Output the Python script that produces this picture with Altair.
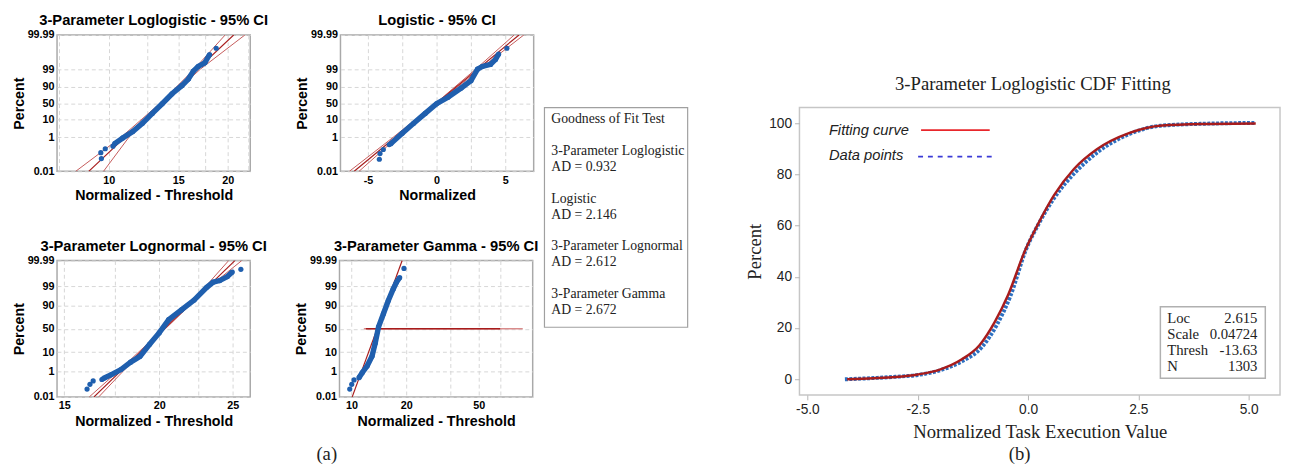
import math
from statistics import NormalDist
import pandas as pd
import altair as alt

# ---------------- data ----------------
PCT_TICKS = [0.01, 1, 10, 50, 90, 99, 99.99]
PCT_LABELS = ["0.01", "1", "10", "50", "90", "99", "99.99"]
CI_LEVELS = [0.01, 1, 50, 99, 99.99]
FIT_LEVELS = [0.01, 99.99]

# (1) 3-Parameter Loglogistic - 95% CI
ll_band_x = [10.35, 10.85, 11.5, 12.17, 12.89, 13.65, 14.46, 15.3, 15.9, 16.37, 16.84, 17.5, 17.99]
ll_band_p = [0.42, 0.9, 2.1, 6.2, 20, 48, 78, 91.4, 96.3, 98.7, 99.3, 99.57, 99.86]
ll_tail_x = [9.58, 9.55, 9.8, 10.25, 18.7]
ll_tail_p = [0.056, 0.124, 0.21, 0.30, 99.94]
ll_fit_x = [8.9, 20.7]
ll_lo_x = [8.25, 10.75, 13.5, 16.45, 19.7]
ll_hi_x = [9.7, 11.25, 13.7, 17.05, 22.1]

# (2) Logistic - 95% CI
lg_band_x = [-3.33, -2.5, -1.67, -0.83, 0.0, 0.83, 1.79, 2.5, 2.98, 3.33, 3.93, 4.29, 4.52]
lg_band_p = [0.42, 1.7, 6.2, 20, 48, 69, 88.6, 95.4, 99.0, 99.3, 99.47, 99.73, 99.87]
lg_tail_x = [-4.17, -4.12, -3.88, -3.45, 5.12]
lg_tail_p = [0.051, 0.11, 0.19, 0.37, 99.94]
lg_fit_x = [-6.0, 6.0]
lg_lo_x = [-6.35, -3.15, -0.05, 2.85, 5.65]
lg_hi_x = [-5.65, -2.85, 0.05, 3.15, 6.35]

# (3) 3-Parameter Lognormal - 95% CI
ln_band_x = [16.88, 17.3, 17.81, 18.34, 18.87, 19.43, 20.0, 20.59, 21.4, 22.24, 23.11, 23.56, 24.04, 24.6, 24.97]
ln_band_p = [0.33, 0.62, 1.3, 3.4, 6.6, 19.8, 41, 69, 84.8, 94.1, 98.8, 99.45, 99.57, 99.78, 99.90]
ln_tail_x = [16.07, 16.21, 16.37, 16.81, 25.63]
ln_tail_p = [0.05, 0.12, 0.22, 0.28, 99.94]
ln_fit_x = [16.41, 25.17]
ln_lo_x = [16.18, 17.65, 20.28, 23.05, 24.7]
ln_hi_x = [16.65, 17.92, 20.38, 23.35, 25.7]

# (4) 3-Parameter Gamma - 95% CI
gm_band_x = [11.0, 11.46, 12.19, 12.97, 13.51, 14.09, 14.99, 15.95, 16.97, 17.67, 18.41]
gm_band_p = [0.38, 0.82, 2.1, 6.6, 21.5, 54, 79.4, 93.8, 98.5, 99.43, 99.74]
gm_tail_x = [9.79, 10.04, 10.34, 19.44]
gm_tail_p = [0.05, 0.12, 0.26, 99.95]
gm_fit_x = [10.1, 19.0]
gm_ci1_x = [11.7, 87.3]
gm_ci2_x = [12.0, 65.6]
gm_ci_p = [50, 50]

# Goodness of fit box (one entry per text line, "" = empty line)
gof_lines = ["Goodness of Fit Test", "", "3-Parameter Loglogistic", "AD = 0.932", "",
             "Logistic", "AD = 2.146", "", "3-Parameter Lognormal", "AD = 2.612", "",
             "3-Parameter Gamma", "AD = 2.672"]

# (b) CDF fitting
fit_x = [-4.1, -3.5, -3.0, -2.5, -2.0, -1.5, -1.1, -0.75, -0.45, -0.07, 0.22, 0.59, 1.04, 1.56, 2.3, 3.04, 4.0, 5.16]
fit_y = [0.0, 0.4, 0.9, 1.9, 3.8, 7.8, 13.3, 22.5, 33.0, 50.2, 60.4, 71.9, 82.1, 89.8, 96.2, 99.1, 99.7, 99.9]
data_x = [-4.15, -3.5, -3.0, -2.5, -2.0, -1.5, -1.05, -0.7, -0.4, -0.05, 0.25, 0.6, 1.08, 1.6, 2.3, 3.0, 4.0, 5.16]
data_y = [0.0, 0.5, 1.0, 1.7, 3.5, 7.0, 12.5, 21.5, 32.5, 50.5, 61.0, 71.0, 81.0, 89.0, 95.8, 99.0, 99.8, 100.1]
legend_labels = ["Fitting curve", "Data points"]
stat_names = ["Loc", "Scale", "Thresh", "N"]
stat_values = ["2.615", "0.04724", "-13.63", "1303"]

# ---------------- styling ----------------
BLUE = "#1f5fae"
FIT_RED = "#a81c1c"
CI_RED = "#c55a5a"
SANS = "Liberation Sans"
SERIF = "Liberation Serif"
PW, PH = 197, 139


def logit(p):
    return math.log(p / (100.0 - p))


_nd = NormalDist()


def probit(p):
    return _nd.inv_cdf(p / 100.0)


def frame(xs, ps, tr):
    return pd.DataFrame({"x": xs, "yt": [tr(p) for p in ps]})


def panel(title, xtitle, band, tails, lines, xscale, xticks, xlabels, tr, extra=None):
    yt_ticks = [round(tr(v), 6) for v in PCT_TICKS]
    lo, hi = yt_ticks[0], yt_ticks[-1]
    ylab = " : ".join(
        f"abs(datum.value - ({t})) < 0.001 ? '{l}'" for t, l in zip(yt_ticks, PCT_LABELS)
    ) + " : ''"
    xlab = f"indexof({xlabels}, datum.value) >= 0 ? replace(datum.label, '\u2212', '-') : ''"
    common = dict(labelFont=SANS, labelFontWeight="bold", labelFontSize=11, labelColor="#000",
                  ticks=False, domain=False, grid=True, gridColor="#d6d6d6", gridDash=[4, 3],
                  titleFont=SANS, titleFontWeight="bold", titleFontSize=14.5, titleColor="#000")
    X = alt.X("x:Q", scale=xscale,
              axis=alt.Axis(values=xticks, labelExpr=xlab, title=xtitle, labelPadding=3,
                            titlePadding=4, **common))
    Y = alt.Y("yt:Q", scale=alt.Scale(domain=[lo, hi], nice=False, zero=False),
              axis=alt.Axis(values=yt_ticks, labelExpr=ylab, title="Percent", labelPadding=3,
                            titlePadding=1, **common))
    layers = []
    for xs, ps, color, width in lines:
        layers.append(alt.Chart(frame(xs, ps, tr)).mark_line(clip=True, color=color, strokeWidth=width)
                      .encode(x=X, y=Y))
    bdf = frame(band[0], band[1], tr)
    tdf = frame(tails[0], tails[1], tr)
    layers.append(alt.Chart(bdf).mark_line(clip=True, color=BLUE, strokeWidth=5.5).encode(x=X, y=Y))
    layers.append(alt.Chart(pd.concat([bdf, tdf])).mark_circle(clip=True, color=BLUE, size=28, opacity=1)
                  .encode(x=X, y=Y))
    if extra is not None:
        layers.append(extra)
    return alt.layer(*layers).properties(
        width=PW, height=PH,
        title=alt.TitleParams(title, font=SANS, fontWeight="bold", fontSize=15, color="#000",
                              anchor="middle", offset=1),
        view=alt.ViewBackground(stroke="#a9a9a9", strokeWidth=1.5),
    )


one = pd.DataFrame({"k": [0]})

p1 = panel("3-Parameter Loglogistic - 95% CI", "Normalized - Threshold",
           (ll_band_x, ll_band_p), (ll_tail_x, ll_tail_p),
           [(ll_lo_x, CI_LEVELS, CI_RED, 1), (ll_hi_x, CI_LEVELS, CI_RED, 1), (ll_fit_x, FIT_LEVELS, FIT_RED, 1.2)],
           alt.Scale(type="log", domain=[7.4, 22.8], nice=False),
           [7.5, 10, 12.5, 15, 17.5, 20, 22.5], [10, 15, 20], logit)

p2 = panel("Logistic - 95% CI", "Normalized",
           (lg_band_x, lg_band_p), (lg_tail_x, lg_tail_p),
           [(lg_lo_x, CI_LEVELS, CI_RED, 1), (lg_hi_x, CI_LEVELS, CI_RED, 1), (lg_fit_x, FIT_LEVELS, FIT_RED, 1.2)],
           alt.Scale(domain=[-7, 7.07], nice=False, zero=False),
           [-5, -2.5, 0, 2.5, 5], [-5, 0, 5], logit)

p3 = panel("3-Parameter Lognormal - 95% CI", "Normalized - Threshold",
           (ln_band_x, ln_band_p), (ln_tail_x, ln_tail_p),
           [(ln_lo_x, CI_LEVELS, CI_RED, 1), (ln_hi_x, CI_LEVELS, CI_RED, 1), (ln_fit_x, FIT_LEVELS, FIT_RED, 1.2)],
           alt.Scale(type="log", domain=[14.67, 26.37], nice=False),
           [15, 17.5, 20, 22.5, 25], [15, 20, 25], probit)

a_label = alt.Chart(one).mark_text(font=SERIF, fontSize=19, color="#222", baseline="middle").encode(
    x=alt.value(-13), y=alt.value(197), text=alt.value("(a)"))

p4 = panel("3-Parameter Gamma - 95% CI", "Normalized - Threshold",
           (gm_band_x, gm_band_p), (gm_tail_x, gm_tail_p),
           [(gm_ci1_x, gm_ci_p, "#d98c8c", 1.5), (gm_ci2_x, gm_ci_p, FIT_RED, 1.5), (gm_fit_x, FIT_LEVELS, FIT_RED, 1.2)],
           alt.Scale(type="log", domain=[8.6, 99], nice=False),
           [10, 15, 20, 35, 50, 66], [10, 20, 50], probit, extra=a_label)

left_block = alt.vconcat(
    alt.hconcat(p1, p2, spacing=25),
    alt.hconcat(p3, p4, spacing=25),
    spacing=35,
)

# Goodness of fit box
GW, GH = 207, 298
gof_layers = [
    alt.Chart(one).mark_rect(fill="white", stroke="#a0a0a0", strokeWidth=1.2).encode(
        x=alt.value(4), x2=alt.value(150), y=alt.value(74), y2=alt.value(298))
]
for i, line in enumerate(gof_lines):
    if line:
        gof_layers.append(
            alt.Chart(one).mark_text(font=SERIF, fontSize=14, color="#222", align="left",
                                     baseline="middle").encode(
                x=alt.value(11), y=alt.value(86 + 16.2 * i), text=alt.value(line)))
gof = alt.layer(*gof_layers).properties(width=GW, height=GH,
                                        view=alt.ViewBackground(stroke="transparent"))

# (b) CDF fitting chart
RX = alt.X("x:Q", scale=alt.Scale(domain=[-5.18, 5.71], nice=False, zero=False),
           axis=alt.Axis(values=[-5, -2.5, 0, 2.5, 5], labelExpr="replace(format(datum.value, '.1f'), '\u2212', '-')",
                         title="Normalized Task Execution Value",
                         labelFont="Liberation Sans", labelFontSize=14, labelColor="#222",
                         ticks=True, tickSize=5, tickColor="#b5b5b5", domain=False, grid=False,
                         labelPadding=3, titlePadding=6, titleFont=SERIF, titleFontSize=19,
                         titleFontWeight="normal", titleColor="#222"))
RY = alt.Y("y:Q", scale=alt.Scale(domain=[-6.1, 106.1], nice=False, zero=False),
           axis=alt.Axis(values=[0, 20, 40, 60, 80, 100], title="Percent",
                         labelFont="Liberation Sans", labelFontSize=14, labelColor="#222",
                         ticks=True, tickSize=5, tickColor="#b5b5b5", domain=False, grid=False,
                         labelPadding=3, titlePadding=4, titleFont=SERIF, titleFontSize=19,
                         titleFontWeight="normal", titleColor="#222"))

data_df = pd.DataFrame({"x": data_x, "y": data_y})
fit_df = pd.DataFrame({"x": fit_x, "y": fit_y})

right_layers = [
    alt.Chart(data_df).mark_line(color="#2d6fc0", strokeWidth=4, strokeDash=[3, 1.5], interpolate="monotone")
    .encode(x=RX, y=RY),
    alt.Chart(fit_df).mark_line(color=FIT_RED, strokeWidth=2.5, interpolate="monotone").encode(x=RX, y=RY),
    alt.Chart(one).mark_text(font="Liberation Sans", fontStyle="italic", fontSize=15, color="#222",
                             align="left", baseline="alphabetic").encode(
        x=alt.value(30), y=alt.value(28), text=alt.value(legend_labels[0])),
    alt.Chart(one).mark_text(font="Liberation Sans", fontStyle="italic", fontSize=15, color="#222",
                             align="left", baseline="alphabetic").encode(
        x=alt.value(30), y=alt.value(53.5), text=alt.value(legend_labels[1])),
    alt.Chart(one).mark_rule(color="#e8262b", strokeWidth=2).encode(
        x=alt.value(124), x2=alt.value(194), y=alt.value(23)),
    alt.Chart(one).mark_rule(color="#3a3ad6", strokeWidth=2, strokeDash=[5, 5]).encode(
        x=alt.value(121), x2=alt.value(200), y=alt.value(50)),
    alt.Chart(one).mark_rect(fill="white", stroke="#b0b0b0", strokeWidth=1.5).encode(
        x=alt.value(368), x2=alt.value(475), y=alt.value(203), y2=alt.value(276)),
]
for i, (nm, vl) in enumerate(zip(stat_names, stat_values)):
    yy = 215 + 16.3 * i
    right_layers.append(alt.Chart(one).mark_text(font=SERIF, fontSize=15, color="#222", align="left",
                                                 baseline="middle").encode(
        x=alt.value(375), y=alt.value(yy), text=alt.value(nm)))
    right_layers.append(alt.Chart(one).mark_text(font=SERIF, fontSize=15, color="#222", align="right",
                                                 baseline="middle").encode(
        x=alt.value(467), y=alt.value(yy), text=alt.value(vl)))
right_layers.append(alt.Chart(one).mark_text(font=SERIF, fontSize=19, color="#222", baseline="middle").encode(
    x=alt.value(224.5), y=alt.value(353), text=alt.value("(b)")))

right = alt.layer(*right_layers).properties(
    width=490, height=293,
    title=alt.TitleParams("3-Parameter Loglogistic CDF Fitting", font=SERIF, fontSize=19,
                          fontWeight="normal", color="#222", anchor="middle", offset=14, dx=-7),
    view=alt.ViewBackground(stroke="#c6c6c6", strokeWidth=1.5),
)

SH = 39
spacer = alt.Chart(one).mark_rect(opacity=0).encode(
    x=alt.value(0), x2=alt.value(1), y=alt.value(0), y2=alt.value(SH)
).properties(width=1, height=SH, view=alt.ViewBackground(stroke="transparent"))

right_col = alt.vconcat(spacer, right, spacing=0)

chart = alt.hconcat(left_block, gof, right_col, spacing=0).properties(
    padding={"left": 2, "top": 0, "right": 0, "bottom": 0}
).configure(background="white")

chart.save("out.html", embed_options={"renderer": "svg", "actions": False})
